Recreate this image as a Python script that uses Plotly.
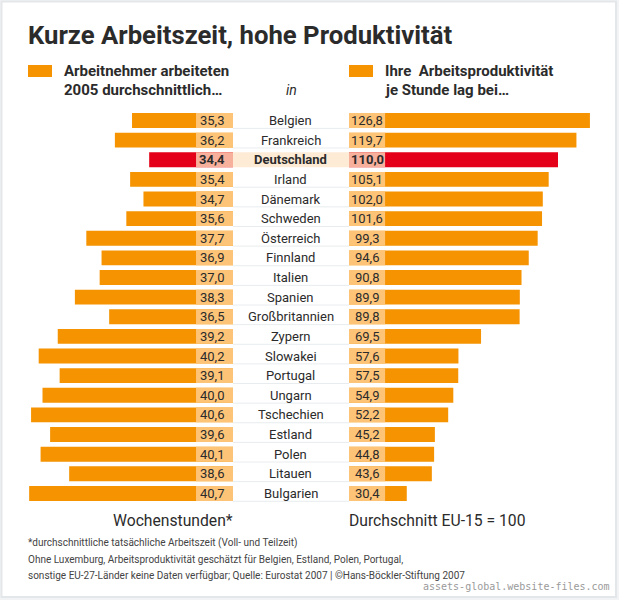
import plotly.graph_objects as go

# Kurze Arbeitszeit, hohe Produktivitaet
countries = ["Belgien", "Frankreich", "Deutschland", "Irland", "Dänemark", "Schweden", "Österreich",
             "Finnland", "Italien", "Spanien", "Großbritannien", "Zypern", "Slowakei", "Portugal",
             "Ungarn", "Tschechien", "Estland", "Polen", "Litauen", "Bulgarien"]
hours = [35.3, 36.2, 34.4, 35.4, 34.7, 35.6, 37.7, 36.9, 37.0, 38.3,
         36.5, 39.2, 40.2, 39.1, 40.0, 40.6, 39.6, 40.1, 38.6, 40.7]
productivity = [126.8, 119.7, 110.0, 105.1, 102.0, 101.6, 99.3, 94.6, 90.8, 89.9,
                89.8, 69.5, 57.6, 57.5, 54.9, 52.2, 45.2, 44.8, 43.6, 30.4]
highlight = "Deutschland"

W, H = 619, 600
ORANGE, RED = "#f59300", "#e30018"
LIGHT, LIGHT_RED = "#fdc478", "#f7b09c"
CREAM = "#fdebd6"
INK = "#2b2b2b"
FONT = "Roboto"


def px(x):
    return x / W


def py(y):
    return 1 - y / H


def fmt(v):
    return f"{v:.1f}".replace(".", ",")


bar_colors = [RED if c == highlight else ORANGE for c in countries]
light_colors = [LIGHT_RED if c == highlight else LIGHT for c in countries]

fig = go.Figure()

# left panel, axis cut off at 30 hours
fig.add_trace(go.Bar(y=countries, x=hours, orientation="h", width=0.76,
                     marker=dict(color=bar_colors, line_width=0), xaxis="x", yaxis="y"))
fig.add_trace(go.Bar(y=countries, x=[31.94] * len(countries), orientation="h", width=0.76,
                     marker=dict(color=light_colors, line_width=0), xaxis="x", yaxis="y"))

# right panel
fig.add_trace(go.Bar(y=countries, x=productivity, orientation="h", width=0.76,
                     marker=dict(color=bar_colors, line_width=0), xaxis="x2", yaxis="y"))
fig.add_trace(go.Bar(y=countries, x=[19] * len(countries), orientation="h", width=0.76,
                     marker=dict(color=light_colors, line_width=0), xaxis="x2", yaxis="y"))

shapes = [
    dict(type="rect", xref="paper", yref="paper", x0=px(1.5), x1=px(616), y0=py(1.5), y1=py(597),
         line=dict(color="#e4e7e9", width=2), fillcolor="white", layer="below"),
    dict(type="rect", xref="paper", yref="paper", x0=px(28), x1=px(52), y0=py(65), y1=py(77),
         line_width=0, fillcolor=ORANGE),
    dict(type="rect", xref="paper", yref="paper", x0=px(349), x1=px(373), y0=py(65), y1=py(77),
         line_width=0, fillcolor=ORANGE),
]
annotations = []


def label(x, y, text, size, anchor="left", color=INK, yref="paper", family=FONT):
    annotations.append(dict(xref="paper", yref=yref, x=px(x), y=py(y) if yref == "paper" else y,
                            text=text, showarrow=False, xanchor=anchor, yanchor="middle",
                            borderpad=0, borderwidth=0,
                            font=dict(size=size, color=color, family=family)))


for i, c in enumerate(countries):
    bold = c == highlight
    wrap = "<b>%s</b>" if bold else "%s"
    if bold:
        shapes.append(dict(type="rect", xref="paper", yref="y", x0=px(233), x1=px(349),
                           y0=i - 0.38, y1=i + 0.38, line_width=0, fillcolor=CREAM, layer="below"))
    else:
        shapes.append(dict(type="line", xref="paper", yref="y", x0=px(233), x1=px(349),
                           y0=i + 0.4, y1=i + 0.4, line=dict(color="#e8ecee", width=1), layer="below"))
    label(212, i, wrap % fmt(hours[i]), 13, "center", yref="y")
    label(367, i, wrap % fmt(productivity[i]), 13, "center", yref="y")
    label(290.5, i, wrap % c, 13, "center", yref="y")

label(28, 35, "<b>Kurze Arbeitszeit, hohe Produktivität</b>", 25.7)
label(64, 71, "<b>Arbeitnehmer arbeiteten</b>", 15)
label(64, 89.5, "<b>2005 durchschnittlich…</b>", 15)
label(291, 89.5, "<i>in</i>", 14, "center")
label(385, 71, "<b>Ihre  Arbeitsproduktivität</b>", 15)
label(385, 89.5, "<b>je Stunde lag bei…</b>", 15)
label(233, 520, "Wochenstunden*", 15.7, "right")
label(349, 520, "Durchschnitt EU-15 = 100", 15.7)
label(28, 543, "*durchschnittliche tatsächliche Arbeitszeit (Voll- und Teilzeit)", 10, color="#444444")
label(28, 559, "Ohne Luxemburg, Arbeitsproduktivität geschätzt für Belgien, Estland, Polen, Portugal,", 10, color="#444444")
label(28, 575, "sonstige EU-27-Länder keine Daten verfügbar; Quelle: Eurostat 2007 | ©Hans-Böckler-Stiftung 2007", 10, color="#444444")
label(610, 586, "assets-global.website-files.com", 10, "right", color="#9a9a9a", family="DejaVu Sans Mono")

fig.update_layout(
    width=W, height=H, margin=dict(l=0, r=0, t=0, b=0),
    paper_bgcolor="#f2f3f4", plot_bgcolor="rgba(0,0,0,0)",
    barmode="overlay", showlegend=False, separators=",.",
    shapes=shapes, annotations=annotations,
    xaxis=dict(domain=[0, px(233)], range=[30 + 233 / 19.05, 30], visible=False),
    xaxis2=dict(domain=[px(349), 1], range=[0, 270 / 1.9], visible=False, anchor="y"),
    yaxis=dict(domain=[0, 1], categoryorder="array", categoryarray=countries,
               range=[24.43, -6.14], visible=False),
)

fig.write_html("out.html", config=dict(displayModeBar=False),
               post_script="document.body.style.margin='0';document.body.style.background='white';")
